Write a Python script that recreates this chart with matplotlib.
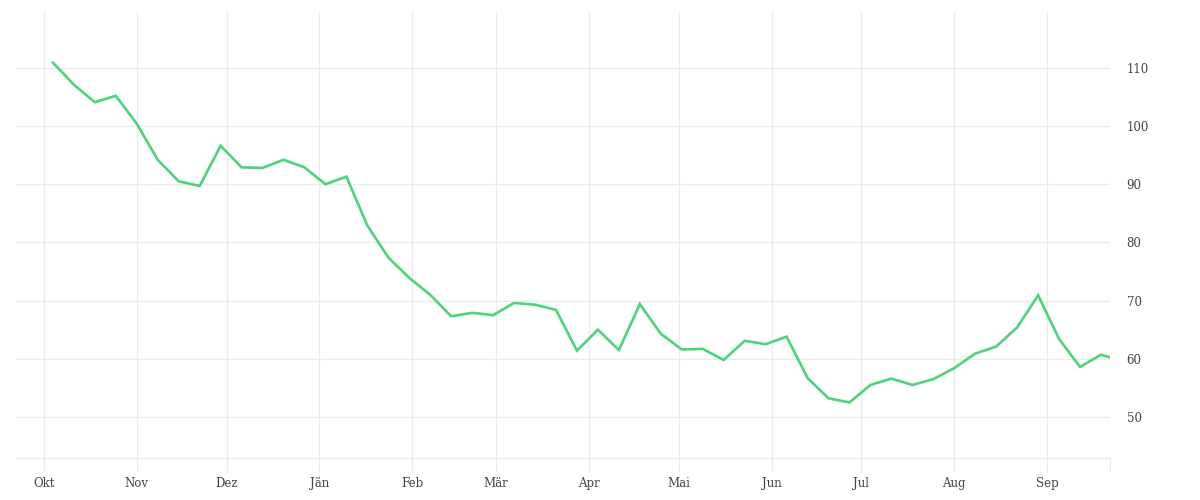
import matplotlib
matplotlib.use("Agg")
import matplotlib.pyplot as plt
import matplotlib.dates as mdates
import numpy as np
import pandas as pd

# Weekly values (first week starting 2018-10-04)
start_date = "2018-10-04"
values = [110.9, 107.1, 104.1, 105.2, 100.4, 94.2, 90.5, 89.7, 96.6, 92.9,
          92.8, 94.2, 92.9, 90.0, 91.3, 82.9, 77.4, 73.9, 71.0, 67.3,
          67.9, 67.5, 69.6, 69.3, 68.4, 61.4, 65.0, 61.5, 69.4, 64.3,
          61.6, 61.7, 59.8, 63.1, 62.5, 63.8, 56.7, 53.2, 52.5, 55.5,
          56.6, 55.5, 56.5, 58.4, 60.9, 62.1, 65.4, 70.9, 63.4, 58.6,
          60.7, 59.6]
dates = pd.date_range(start_date, periods=len(values), freq="7D")

month_labels = ["Okt", "Nov", "Dez", "Jän", "Feb", "Mär", "Apr", "Mai",
                "Jun", "Jul", "Aug", "Sep"]
month_starts = pd.date_range("2018-10-01", periods=12, freq="MS")
x_end = pd.Timestamp("2019-09-22")
x_start = pd.Timestamp("2018-09-21 08:00")
y_ticks = [50, 60, 70, 80, 90, 100, 110]

grid_c = "#ebebeb"
line_c = "#4cd37b"
text_c = "#444444"

plt.rcParams['font.family'] = ['DejaVu Serif']

fig = plt.figure(figsize=(12, 5), dpi=100)
ax = fig.add_axes([15/1200, 42/500, (1110-15)/1200, (458-12)/500])

ax.plot(dates, values, color=line_c, lw=1.9, solid_joinstyle="miter", zorder=3)

ax.set_xlim(x_start, x_end)
ax.set_ylim(42.95, 119.6)

xt = list(month_starts) + [x_end]
ax.set_xticks(xt)
ax.set_xticklabels(month_labels + [""])
ax.set_yticks(y_ticks)
ax.set_yticklabels([str(v) for v in y_ticks])

ax.yaxis.tick_right()
ax.tick_params(axis="y", length=0, pad=12, labelsize=8.5, labelcolor=text_c)
ax.tick_params(axis="x", length=10, width=1, color=grid_c, pad=4,
               labelsize=8.5, labelcolor=text_c)

ax.grid(True, color=grid_c, lw=1)
ax.set_axisbelow(True)
for s in ["top", "left", "right"]:
    ax.spines[s].set_visible(False)
ax.spines["bottom"].set_color(grid_c)
ax.spines["bottom"].set_linewidth(1)

fig.savefig("out.png", dpi=100)
